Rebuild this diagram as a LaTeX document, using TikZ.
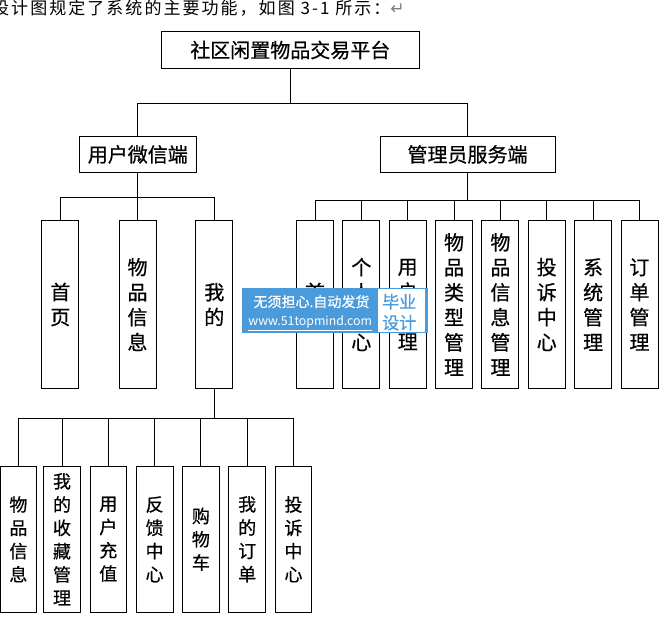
\documentclass[tikz,border=0pt]{standalone}
\usepackage{fontspec}
\setmainfont{Noto Sans CJK SC}
\newfontfamily\boxfont{Noto Sans CJK SC}[FakeBold=0.6]
\newfontfamily\symfont{DejaVu Sans}
\usetikzlibrary{calc}
\definecolor{markblue}{RGB}{74,155,220}
\tikzset{>=latex}
\tikzset{
  headbox/.style={draw,line width=0.9pt,inner sep=0,minimum height=36.7,
    font=\boxfont\fontsize{20}{24}\selectfont},
  colbox/.style={draw,line width=0.9pt,inner sep=0,minimum width=37,
    minimum height=167.6,align=center,font=\boxfont\fontsize{20}{25}\selectfont},
  leafbox/.style={draw,line width=0.9pt,inner sep=0,minimum width=36.7,
    minimum height=146.7,align=center,font=\boxfont\fontsize{18}{23.3}\selectfont},
  link/.style={line width=0.9pt}
}

\begin{document}
\begin{tikzpicture}[x=1pt,y=-1pt]
    \useasboundingbox (0,0) rectangle (669,624);
    \fill[white] (0,0) rectangle (669,624);
    \node[anchor=west,inner sep=0,font=\fontsize{17}{19}\selectfont\addfontfeature{LetterSpace=12}]
    (caption) at (-8,8) {设计图规定了系统的主要功能，如图 3-1 所示：{\symfont\color{gray}↵}};
    \node[headbox,minimum width=258.7] (root) at (290.3,50) {社区闲置物品交易平台};
    \node[headbox,minimum width=117.7] (user) at (137.8,154.4) {用户微信端};
    \node[headbox,minimum width=175] (admin) at (467.5,154.4) {管理员服务端};
    \node[colbox] (uHome) at (60.3,304.5) {首\\页};
    \node[colbox] (uGoods) at (137.5,304.5) {物\\品\\信\\息};
    \node[colbox] (uMine) at (214.3,304.5) {我\\的};
    \node[colbox] (aHome) at (315,304.5) {首\\页};
    \node[colbox] (aProfile) at (361.35,304.5) {个\\人\\中\\心};
    \node[colbox] (aUsers) at (407.7,304.5) {用\\户\\管\\理};
    \node[colbox] (aTypes) at (454.05,304.5) {物\\品\\类\\型\\管\\理};
    \node[colbox] (aGoods) at (500.4,304.5) {物\\品\\信\\息\\管\\理};
    \node[colbox] (aComplain) at (546.75,304.5) {投\\诉\\中\\心};
    \node[colbox] (aSystem) at (593.1,304.5) {系\\统\\管\\理};
    \node[colbox] (aOrders) at (639.45,304.5) {订\\单\\管\\理};
    \node[leafbox] (mGoods) at (18.4,539.3) {物\\品\\信\\息};
    \node[leafbox] (mFav) at (62,539.3) {我\\的\\收\\藏\\管\\理};
    \node[leafbox] (mRecharge) at (108.3,539.3) {用\\户\\充\\值};
    \node[leafbox] (mFeedback) at (154.6,539.3) {反\\馈\\中\\心};
    \node[leafbox] (mCart) at (200.9,539.3) {购\\物\\车};
    \node[leafbox] (mOrders) at (247.2,539.3) {我\\的\\订\\单};
    \node[leafbox] (mComplain) at (293.5,539.3) {投\\诉\\中\\心};
    \coordinate (busTop) at (0,103.3);
    \coordinate (busUser) at (0,197.5);
    \coordinate (busAdmin) at (0,200);
    \coordinate (busMine) at (0,418.3);
    \draw[link] (root.south) -- (root.south |- busTop) -| (user.north);
    \draw[link] (root.south) -- (root.south |- busTop) -| (admin.north);
    \draw[link] (user.south) -- (user.south |- busUser) -| (uHome.north);
    \draw[link] (user.south) -- (user.south |- busUser) -| (uGoods.north);
    \draw[link] (user.south) -- (user.south |- busUser) -| (uMine.north);
    \draw[link] (admin.south) -- (admin.south |- busAdmin) -| (aHome.north);
    \draw[link] (admin.south) -- (admin.south |- busAdmin) -| (aProfile.north);
    \draw[link] (admin.south) -- (admin.south |- busAdmin) -| (aUsers.north);
    \draw[link] (admin.south) -- (admin.south |- busAdmin) -| (aTypes.north);
    \draw[link] (admin.south) -- (admin.south |- busAdmin) -| (aGoods.north);
    \draw[link] (admin.south) -- (admin.south |- busAdmin) -| (aComplain.north);
    \draw[link] (admin.south) -- (admin.south |- busAdmin) -| (aSystem.north);
    \draw[link] (admin.south) -- (admin.south |- busAdmin) -| (aOrders.north);
    \draw[link] (uMine.south) -- (uMine.south |- busMine) -| (mGoods.north);
    \draw[link] (uMine.south) -- (uMine.south |- busMine) -| (mFav.north);
    \draw[link] (uMine.south) -- (uMine.south |- busMine) -| (mRecharge.north);
    \draw[link] (uMine.south) -- (uMine.south |- busMine) -| (mFeedback.north);
    \draw[link] (uMine.south) -- (uMine.south |- busMine) -| (mCart.north);
    \draw[link] (uMine.south) -- (uMine.south |- busMine) -| (mOrders.north);
    \draw[link] (uMine.south) -- (uMine.south |- busMine) -| (mComplain.north);
    \node[fill=markblue,inner sep=0,minimum width=185.4,minimum height=45] (mark)
    at (335,310.8) {};
    \node[fill=white,inner sep=0,minimum width=47.3,minimum height=43] (markSide)
    at (401.35,310.8) {};
    \node[white,inner sep=0,font=\boxfont\fontsize{14}{16}\selectfont] (markSlogan)
    at (311.5,301.7) {无须担心.自动发货};
    \node[white,inner sep=0,font=\fontsize{12.3}{15}\selectfont] (markSite)
    at (310.2,323.3) {\underline{www.51topmind.com}};
    \node[markblue,inner sep=0,font=\boxfont\fontsize{17}{20}\selectfont] (markTitle)
    at (399.2,301.7) {毕业};
    \node[markblue,inner sep=0,font=\boxfont\fontsize{17}{20}\selectfont] (markDesign)
    at (399.2,322.7) {设计};
  \end{tikzpicture}
\end{document}
